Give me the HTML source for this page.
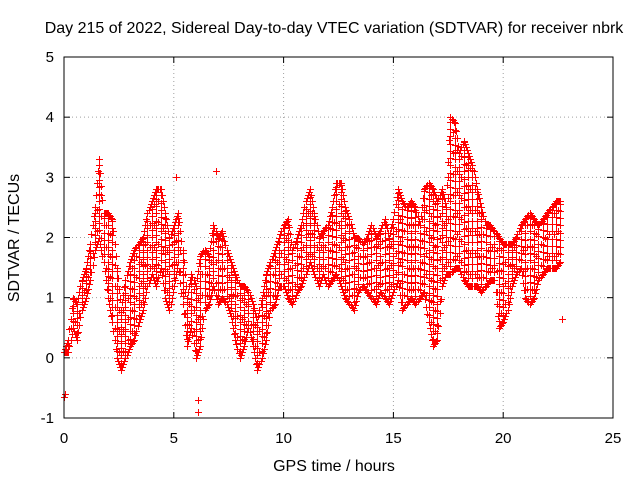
<!DOCTYPE html>
<html><head><meta charset="utf-8"><style>
body{margin:0;background:#fff}
svg{display:block;font-family:"Liberation Sans",sans-serif}
</style></head><body>
<svg id="chart" width="640" height="480">
<text x="334" y="33" font-size="16" text-anchor="middle">Day 215 of 2022, Sidereal Day-to-day VTEC variation (SDTVAR) for receiver nbrk</text>
<text x="334" y="471" font-size="16" text-anchor="middle">GPS time / hours</text>
<text transform="translate(19,238) rotate(-90)" font-size="16" text-anchor="middle">SDTVAR / TECUs</text>
<g id="grid"></g>
<g id="marks"></g>
<rect x="64" y="57" width="549" height="361" fill="none" stroke="#000"/>
<g id="ticks"></g>
</svg>
<script>
const xTicks=[0,5,10,15,20,25];
const yTicks=[-1,0,1,2,3,4,5];
const times=[0,0.2,0.4,0.6,0.8,1.0,1.2,1.4,1.6,1.8,2.0,2.2,2.4,2.6,2.8,3.0,3.2,3.4,3.6,3.8,4.0,4.2,4.4,4.6,4.8,5.0,5.2,5.4,5.6,5.8,6.0,6.2,6.4,6.6,6.8,7.0,7.2,7.4,7.6,7.8,8.0,8.2,8.4,8.6,8.8,9.0,9.2,9.4,9.6,9.8,10.0,10.2,10.4,10.6,10.8,11.0,11.2,11.4,11.6,11.8,12.0,12.2,12.4,12.6,12.8,13.0,13.2,13.4,13.6,13.8,14.0,14.2,14.4,14.6,14.8,15.0,15.2,15.4,15.6,15.8,16.0,16.2,16.4,16.6,16.8,17.0,17.2,17.4,17.6,17.8,18.0,18.2,18.4,18.6,18.8,19.0,19.2,19.4,19.6,19.8,20.0,20.2,20.4,20.6,20.8,21.0,21.2,21.4,21.6,21.8,22.0,22.2,22.4,22.6];
const lowVals=[0.1,0.1,0.5,0.3,0.8,1.0,1.3,1.8,2.0,1.6,1.0,0.6,0.0,-0.2,0.0,0.2,0.3,0.6,0.8,1.2,1.4,1.2,1.5,1.0,0.8,1.2,1.6,0.9,0.2,0.5,0.0,0.2,0.8,0.9,1.2,0.9,1.0,0.9,0.7,0.3,0.0,0.2,0.5,0.2,-0.2,0.0,0.3,0.8,0.9,1.2,1.2,1.0,0.9,1.1,1.2,1.4,1.6,1.4,1.2,1.4,1.2,1.3,1.4,1.2,1.0,0.9,0.8,1.1,1.2,1.1,1.0,0.9,1.1,1.0,0.9,1.1,1.3,0.8,0.9,1.0,0.9,1.0,1.1,0.6,0.2,0.3,1.2,1.4,1.4,1.5,1.5,1.3,1.2,1.2,1.2,1.1,1.2,1.3,1.3,0.5,0.6,0.8,1.2,1.4,1.5,1.0,0.9,1.0,1.3,1.4,1.5,1.5,1.5,1.6];
const highVals=[0.1,0.3,1.0,0.9,1.3,1.5,1.9,2.5,3.3,2.4,2.4,2.3,1.5,0.8,1.3,1.6,1.8,1.9,2.0,2.4,2.6,2.8,2.8,2.4,2.0,2.2,2.4,1.8,1.0,1.4,1.2,1.7,1.8,1.7,2.2,2.0,2.1,1.8,1.6,1.4,1.2,1.2,1.1,0.9,0.6,1.0,1.4,1.6,1.8,2.0,2.2,2.3,1.8,2.0,2.2,2.6,2.8,2.4,2.0,2.1,2.2,2.5,2.9,2.9,2.5,2.3,2.0,2.0,1.9,2.0,2.2,2.0,2.1,2.3,2.0,2.3,2.8,2.6,2.5,2.6,2.5,2.2,2.8,2.9,2.8,2.6,2.8,2.5,4.0,3.9,3.4,3.6,3.4,3.2,2.8,2.5,2.2,2.2,2.1,2.0,1.9,1.9,1.9,2.0,2.2,2.3,2.4,2.3,2.2,2.3,2.4,2.5,2.6,2.6];
const extraTimes=[0,6.1,6.1,22.7,5.6,5.1,6.9,0.05];
const extraVals=[-0.65,-0.9,-0.7,0.65,0.8,3.0,3.1,-0.6];

const X0=64,X1=613,Y0=418,Y1=57;
const xs=t=>X0+(t-0)/25*(X1-X0);
const ys=v=>Y0-(v+1)/6*(Y0-Y1);
const NS="http://www.w3.org/2000/svg";
const grid=document.getElementById('grid'),ticks=document.getElementById('ticks'),marks=document.getElementById('marks');
function mk(tag,attrs,parent){const e=document.createElementNS(NS,tag);for(const k in attrs)e.setAttribute(k,attrs[k]);parent.appendChild(e);return e;}
xTicks.forEach(t=>{const x=xs(t);
 if(t>0&&t<25){const g=mk('line',{x1:x,x2:x,y1:Y0,y2:Y1,stroke:'#a0a0a0','stroke-dasharray':'1,3'},grid);
 
 }
 const tk=mk('line',{x1:x,x2:x,y1:Y0,y2:Y0-6,stroke:'#000'},ticks);
 
 
 const tk2=mk('line',{x1:x,x2:x,y1:Y1,y2:Y1+6,stroke:'#000'},ticks);
 
 
 const l=mk('text',{x:x,y:Y0+25,'font-size':15,'text-anchor':'middle'},ticks);l.textContent=t;
 
 });
yTicks.forEach(v=>{const y=ys(v);
 if(v>-1&&v<5){const g=mk('line',{x1:X0,x2:X1,y1:y,y2:y,stroke:'#a0a0a0','stroke-dasharray':'1,3'},grid);
 
 }
 const tk=mk('line',{x1:X0,x2:X0+6,y1:y,y2:y,stroke:'#000'},ticks);
 
 
 const tk2=mk('line',{x1:X1,x2:X1-6,y1:y,y2:y,stroke:'#000'},ticks);
 
 
 const l=mk('text',{x:X0-10,y:y+5,'font-size':15,'text-anchor':'end'},ticks);l.textContent=v;
 
 });
let d='';
function plus(t,v){const x=Math.round(xs(t))+0.5,y=Math.round(ys(v))+0.5;d+=`M${x-3.5} ${y}h7M${x} ${y-3.5}v7`;}
function flush(name){if(!d)return;const p=mk('path',{d:d,stroke:'#ff0000','stroke-width':1,fill:'none'},marks);
 
 
 d='';}
times.forEach((t,i)=>{const lo=lowVals[i],hi=highVals[i];
 for(let v=lo;v<=hi+1e-6;v+=0.12)plus(t,v);plus(t,hi);
 if(i+1<times.length){const t2=times[i+1],lo2=lowVals[i+1],hi2=highVals[i+1];
  for(let k=1;k<4;k++){const f=k/4,m=t+(t2-t)*f;
   plus(m,lo+(lo2-lo)*f);plus(m,hi+(hi2-hi)*f);
   if(k===2){const a=lo+(lo2-lo)*f,b=hi+(hi2-hi)*f;for(let v=a+0.2;v<b-0.1;v+=0.35)plus(m,v);}
  }}
 flush('sdtvar-column');
});
extraTimes.forEach((t,i)=>{plus(t,extraVals[i]);flush('sdtvar-outlier');});
</script>
</body></html>
